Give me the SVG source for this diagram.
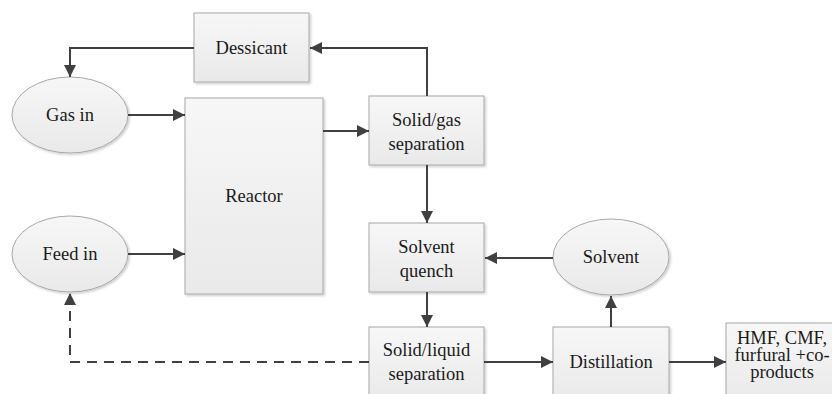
<svg xmlns="http://www.w3.org/2000/svg" width="832" height="394" viewBox="0 0 832 394">
<defs>
<linearGradient id="g" x1="0" y1="0" x2="0" y2="1">
<stop offset="0" stop-color="#f7f7f7"/>
<stop offset="1" stop-color="#e9e9e9"/>
</linearGradient>
<filter id="sh" x="-10%" y="-10%" width="130%" height="130%">
<feDropShadow dx="1.5" dy="1.5" stdDeviation="1" flood-color="#000" flood-opacity="0.2"/>
</filter>
<marker id="ah" markerWidth="12" markerHeight="12" refX="10" refY="5" orient="auto" markerUnits="userSpaceOnUse" viewBox="0 0 10 10">
<path d="M0,0 L10,5 L0,10 z" fill="#404040"/>
</marker>
</defs>
<style>
.n{fill:url(#g);stroke:#a8a8a8;stroke-width:1;filter:url(#sh)}
.c{fill:none;stroke:#404040;stroke-width:2;marker-end:url(#ah)}
.d{stroke-dasharray:10,7}
</style>
<rect width="832" height="394" fill="#fff"/>
<g font-family="Liberation Serif, Times New Roman, DejaVu Serif, serif" font-size="18.5" fill="#1a1a1a" text-anchor="middle">
<g id="dessicant"><rect class="n" x="194" y="13" width="115" height="69"/><text x="251.5" y="54">Dessicant</text></g>
<g id="gasin"><ellipse class="n" cx="70" cy="115" rx="58" ry="38"/><text x="70" y="121">Gas in</text></g>
<g id="reactor"><rect class="n" x="185" y="98" width="138" height="196"/><text x="254" y="202">Reactor</text></g>
<g id="solidgas"><rect class="n" x="369" y="96" width="115" height="69"/><text x="426.5" y="126">Solid/gas</text><text x="426.5" y="150">separation</text></g>
<g id="feedin"><ellipse class="n" cx="70" cy="254" rx="58" ry="38"/><text x="70" y="260">Feed in</text></g>
<g id="quench"><rect class="n" x="369" y="223" width="115" height="69"/><text x="426.5" y="253">Solvent</text><text x="426.5" y="277">quench</text></g>
<g id="solvent"><ellipse class="n" cx="611" cy="257" rx="58" ry="38"/><text x="611" y="263">Solvent</text></g>
<g id="solidliquid"><rect class="n" x="369" y="327" width="115" height="75"/><text x="426.5" y="356">Solid/liquid</text><text x="426.5" y="380">separation</text></g>
<g id="distillation"><rect class="n" x="553" y="327" width="116" height="75"/><text x="611" y="368">Distillation</text></g>
<g id="products"><rect class="n" x="726" y="323" width="112" height="80"/><text x="782" y="344">HMF, CMF,</text><text x="782" y="361">furfural +co-</text><text x="782" y="378">products</text></g>
</g>
<g id="connectors">
<path class="c" d="M427,96 V48 H310"/>
<path class="c" d="M194,48 H70 V77"/>
<path class="c" d="M128,115 H185"/>
<path class="c" d="M323,131 H369"/>
<path class="c" d="M128,254 H185"/>
<path class="c" d="M427,165 V223"/>
<path class="c" d="M553,258 H485"/>
<path class="c" d="M427,292 V327"/>
<path class="c d" d="M369,362 H70 V293"/>
<path class="c" d="M484,362 H553"/>
<path class="c" d="M611,327 V296"/>
<path class="c" d="M669,362 H726"/>
</g>
</svg>
